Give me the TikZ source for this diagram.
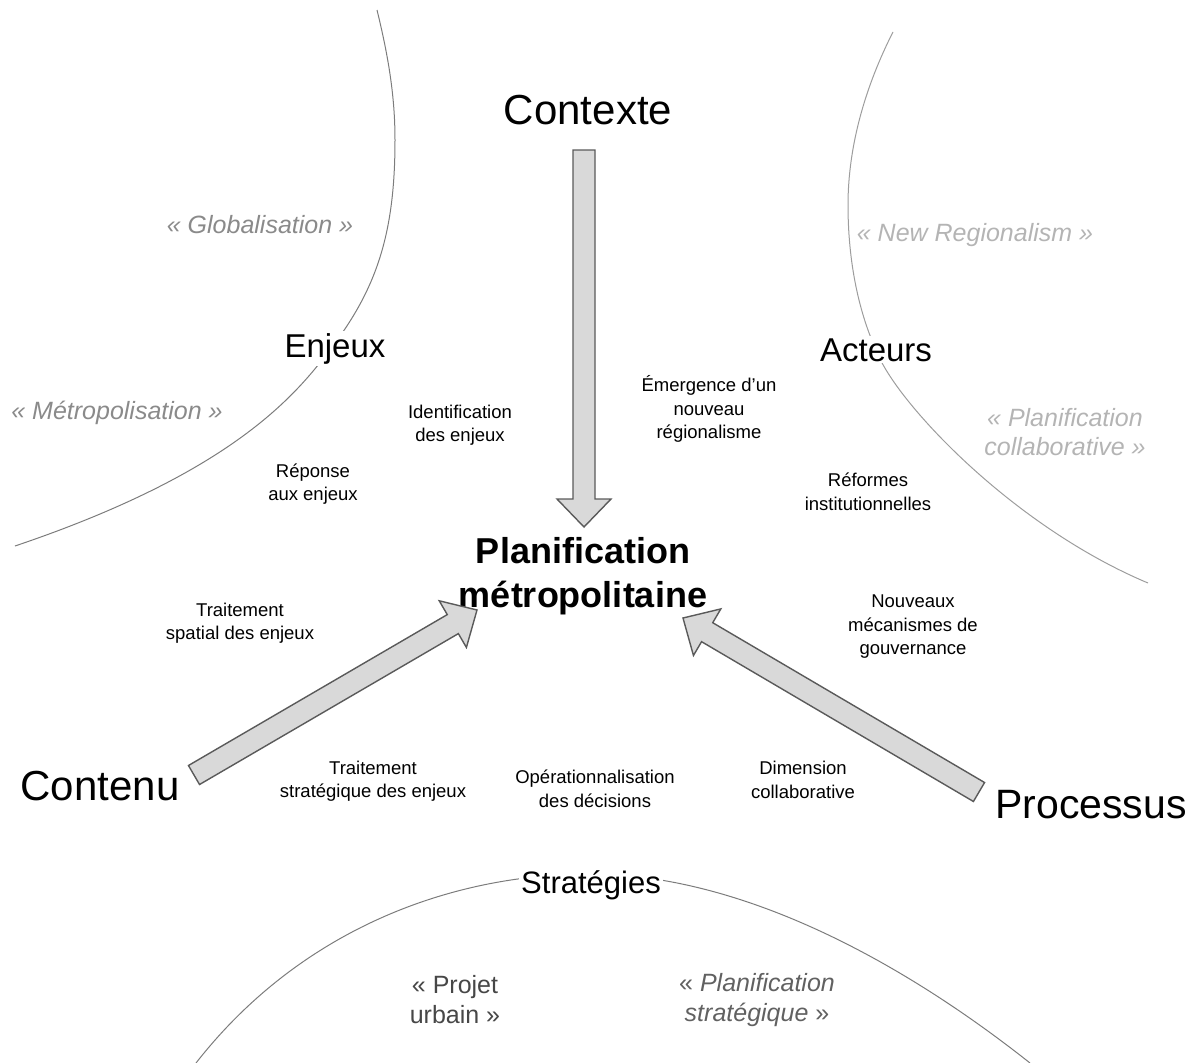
\documentclass[tikz,border=0pt]{standalone}
\usepackage{fontspec}
\setmainfont{Liberation Sans}
\usetikzlibrary{%
  calc,% wg. ($(a)!d!90:(b)$)
  positioning%
}

\definecolor{arcgray}{HTML}{7C7C7C}
\definecolor{quotegray}{HTML}{8A8A8A}
\definecolor{palegray}{HTML}{B4B4B4}
\definecolor{arrowfill}{HTML}{D9D9D9}
\definecolor{arrowline}{HTML}{5A5A5A}

% fat arrow: #1 tail, #2 tip, #3 name of the head base
\newcommand\fatarrow[3]{%
  \coordinate (#3) at ($(#2)!28pt!(#1)$);
  \draw[bigarrow] ($(#1)!11pt!90:(#2)$) -- ($(#3)!11pt!-90:(#1)$)
    -- ($(#3)!27pt!-90:(#1)$) -- (#2) -- ($(#3)!27pt!90:(#1)$)
    -- ($(#3)!11pt!90:(#1)$) -- ($(#1)!11pt!-90:(#2)$) -- cycle;}

\begin{document}
\begin{tikzpicture}[x=1pt,y=-1pt,
	bigarrow/.style={
	fill=arrowfill,
	draw=arrowline,
	line width=1.4pt,
	line join=miter
	},arcline/.style={
	draw=arcgray,
	line width=1pt
	},pole/.style={
	font=\fontsize{42}{50}\selectfont,
	anchor=base
	},sphere/.style={
	font=\fontsize{33}{40}\selectfont,
	anchor=base,
	fill=white,inner sep=2pt
	},core/.style={
	font=\fontsize{36}{44}\bfseries\selectfont,
	align=center
	},small/.style={
	font=\fontsize{18.5}{23.5}\selectfont,
	align=center
	},quote/.style={
	font=\fontsize{25}{29}\itshape\selectfont,
	align=center,
	text=quotegray
	}
]
\useasboundingbox (0,0) rectangle (1195,1063);

% the three spheres
\draw[arcline] (377,10) .. controls (388,55) and (395,95) .. (395,140)
	.. controls (395,230) and (378,285) .. (335,343)
	.. controls (300,390) and (240,470) .. (15,546);
\draw[arcline,draw=arcgray!75] (893,32) .. controls (866,85) and (848,145) .. (848,205)
	.. controls (848,270) and (862,320) .. (877,352)
	.. controls (895,400) and (1010,525) .. (1148,583);
\draw[arcline] (196,1063) .. controls (300,930) and (450,874) .. (590,874)
	.. controls (740,874) and (900,960) .. (1030,1063);

% poles
\node (contexte) [pole] at (588,124) {Contexte};
\node (contenu) [pole] at (100,800) {Contenu};
\node (processus) [pole,font=\fontsize{41}{49}\selectfont] at (1091,818) {Processus};
\node (plan) [core] at (583,576) {Planification\\métropolitaine};

% spheres
\node (enjeux) [sphere] at (335,357) {Enjeux};
\node (acteurs) [sphere] at (876,361) {Acteurs};
\node (strategies) [sphere,font=\fontsize{31}{38}\selectfont] at (591,893) {Stratégies};

% quotes
\node (global) [quote] at (260,225) {«~Globalisation~»};
\node (metro) [quote] at (117,413) {«~Métropolisation~»};
\node (newreg) [quote,text=palegray] at (975,235) {«~New Regionalism~»};
\node (plancol) [quote,text=palegray] at (1065,432) {«~Planification\\collaborative~»};
\node (projet) [quote,font=\fontsize{25}{30}\selectfont,text=black!72] at (455,1000) {«~Projet\\urbain~»};
\node (planstrat) [quote,font=\fontsize{25}{30}\itshape\selectfont,text=black!62] at (757,1000) {\textup{«}~Planification\\stratégique~\textup{»}};

% small labels
\node (ident) [small] at (460,425) {Identification\\des enjeux};
\node (reponse) [small] at (313,484) {Réponse\\aux enjeux};
\node (emerg) [small] at (709,409) {Émergence d'un\\nouveau\\régionalisme};
\node (reform) [small] at (868,492) {Réformes\\institutionnelles};
\node (spatial) [small] at (240,623) {Traitement\\spatial des enjeux};
\node (mecan) [small] at (913,627) {Nouveaux\\mécanismes de\\gouvernance};
\node (strat) [small] at (373,781) {Traitement\\stratégique des enjeux};
\node (operat) [small] at (595,789) {Opérationnalisation\\des décisions};
\node (dimen) [small] at (803,780) {Dimension\\collaborative};

% fat arrows into the core
\coordinate (ctxA) at (584,150);
\coordinate (ctxB) at (584,527);
\coordinate (cntA) at (194,775);
\coordinate (cntB) at (477,610);
\coordinate (prcA) at (979,792);
\coordinate (prcB) at (683,618);
\fatarrow{ctxA}{ctxB}{ctxH}
\fatarrow{cntA}{cntB}{cntH}
\fatarrow{prcA}{prcB}{prcH}

\end{tikzpicture}
\end{document}
